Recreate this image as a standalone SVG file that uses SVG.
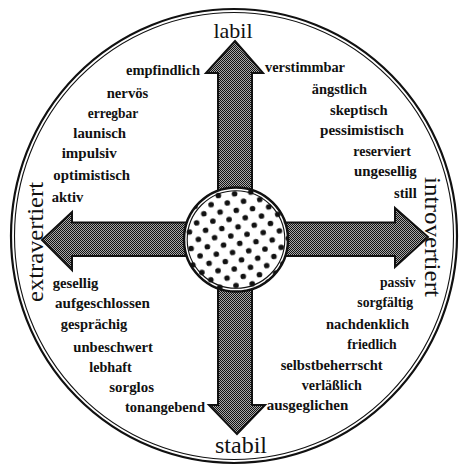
<svg xmlns="http://www.w3.org/2000/svg" width="460" height="466" viewBox="0 0 460 466">
  <style>
    .w { font-family: "Liberation Serif", "Times New Roman", serif; font-size: 14.5px; font-weight: bold; fill: #111; }
    .big { font-family: "Liberation Serif", "Times New Roman", serif; fill: #111; text-anchor: middle; }
    .ring { fill: none; stroke: #111; }
  </style>
  <defs>
    <pattern id="mesh" patternUnits="userSpaceOnUse" width="2" height="2">
      <rect width="2" height="2" fill="#a8a8a8"/>
      <rect width="1" height="1" fill="#111"/>
      <rect x="1" y="1" width="1" height="1" fill="#111"/>
    </pattern>
    <pattern id="dots" patternUnits="userSpaceOnUse" width="16.3" height="16.6" x="3" y="3" patternTransform="rotate(-6 236 239.5)">
      <rect width="16.3" height="16.6" fill="#fff"/>
      <circle cx="0" cy="0" r="2.8" fill="#111"/>
      <circle cx="16.3" cy="0" r="2.8" fill="#111"/>
      <circle cx="0" cy="16.6" r="2.8" fill="#111"/>
      <circle cx="16.3" cy="16.6" r="2.8" fill="#111"/>
      <circle cx="8.15" cy="8.3" r="2.8" fill="#111"/>
    </pattern>
  </defs>
  <rect width="460" height="466" fill="#fff"/>

  <g id="outer-circle">
    <ellipse class="ring" cx="234" cy="236" rx="223" ry="227" stroke-width="2.2"/>
    <ellipse class="ring" cx="234" cy="236" rx="219.5" ry="223.5" stroke-width="1.1"/>
  </g>

  <g id="connectors">
    <path d="M235,41 L263,73 L252,73 L252,222.5 L395,222.5 L395,208 L428,237 L395,267 L395,256 L252,256 L252,405 L265,405 L237,434 L209,405 L218,405 L218,256 L72,256 L72,270 L42,240 L72,212 L72,222.5 L218,222.5 L218,73 L206,73 Z" fill="url(#mesh)" stroke="#111" stroke-width="2" stroke-linejoin="miter"/>
  </g>

  <g id="center">
    <circle cx="236" cy="239.5" r="52" fill="url(#dots)" stroke="#111" stroke-width="2.5"/>
    <circle cx="236" cy="239.5" r="48.8" fill="none" stroke="#111" stroke-width="1.1"/>
  </g>

  <g id="axis-labels">
    <text class="big" x="233" y="38" font-size="22">labil</text>
    <text class="big" x="241" y="453" font-size="24">stabil</text>
    <text class="big" font-size="24" transform="translate(43,242) rotate(-90)" textLength="120" lengthAdjust="spacingAndGlyphs">extravertiert</text>
    <text class="big" font-size="24" transform="translate(425,237) rotate(90)" textLength="120" lengthAdjust="spacingAndGlyphs">introvertiert</text>
  </g>

  <g id="labil-extravertiert">
    <text class="w" x="126" y="75" textLength="74" lengthAdjust="spacingAndGlyphs">empfindlich</text>
    <text class="w" x="106.7" y="97.7" textLength="41.6" lengthAdjust="spacingAndGlyphs">nervös</text>
    <text class="w" x="87.7" y="117.7" textLength="50.6" lengthAdjust="spacingAndGlyphs">erregbar</text>
    <text class="w" x="73.3" y="138.3" textLength="52.7" lengthAdjust="spacingAndGlyphs">launisch</text>
    <text class="w" x="61.7" y="158.3" textLength="55" lengthAdjust="spacingAndGlyphs">impulsiv</text>
    <text class="w" x="53.3" y="180" textLength="76.7" lengthAdjust="spacingAndGlyphs">optimistisch</text>
    <text class="w" x="51.7" y="201.7" textLength="31.6" lengthAdjust="spacingAndGlyphs">aktiv</text>
  </g>

  <g id="labil-introvertiert">
    <text class="w" x="265" y="72.3" textLength="80" lengthAdjust="spacingAndGlyphs">verstimmbar</text>
    <text class="w" x="311.7" y="94.3" textLength="55.3" lengthAdjust="spacingAndGlyphs">ängstlich</text>
    <text class="w" x="330" y="115" textLength="57.7" lengthAdjust="spacingAndGlyphs">skeptisch</text>
    <text class="w" x="320" y="135" textLength="84" lengthAdjust="spacingAndGlyphs">pessimistisch</text>
    <text class="w" x="353.3" y="155.7" textLength="57.7" lengthAdjust="spacingAndGlyphs">reserviert</text>
    <text class="w" x="354" y="175.7" textLength="62.7" lengthAdjust="spacingAndGlyphs">ungesellig</text>
    <text class="w" x="394" y="198.3" textLength="22.7" lengthAdjust="spacingAndGlyphs">still</text>
  </g>

  <g id="stabil-extravertiert">
    <text class="w" x="52.7" y="288.3" textLength="45.6" lengthAdjust="spacingAndGlyphs">gesellig</text>
    <text class="w" x="55" y="308.3" textLength="95" lengthAdjust="spacingAndGlyphs">aufgeschlossen</text>
    <text class="w" x="60.7" y="329.3" textLength="66.6" lengthAdjust="spacingAndGlyphs">gesprächig</text>
    <text class="w" x="73.3" y="351.7" textLength="79.7" lengthAdjust="spacingAndGlyphs">unbeschwert</text>
    <text class="w" x="89.3" y="371.7" textLength="42.4" lengthAdjust="spacingAndGlyphs">lebhaft</text>
    <text class="w" x="109.3" y="391.7" textLength="44.7" lengthAdjust="spacingAndGlyphs">sorglos</text>
    <text class="w" x="125" y="411.7" textLength="80" lengthAdjust="spacingAndGlyphs">tonangebend</text>
  </g>

  <g id="stabil-introvertiert">
    <text class="w" x="380" y="286.7" textLength="35.7" lengthAdjust="spacingAndGlyphs">passiv</text>
    <text class="w" x="357.3" y="306.7" textLength="55.7" lengthAdjust="spacingAndGlyphs">sorgfältig</text>
    <text class="w" x="326" y="329.3" textLength="83" lengthAdjust="spacingAndGlyphs">nachdenklich</text>
    <text class="w" x="347.3" y="349.3" textLength="49.4" lengthAdjust="spacingAndGlyphs">friedlich</text>
    <text class="w" x="280.7" y="370" textLength="102" lengthAdjust="spacingAndGlyphs">selbstbeherrscht</text>
    <text class="w" x="301.7" y="390" textLength="60" lengthAdjust="spacingAndGlyphs">verläßlich</text>
    <text class="w" x="266.7" y="410" textLength="81.6" lengthAdjust="spacingAndGlyphs">ausgeglichen</text>
  </g>
</svg>
